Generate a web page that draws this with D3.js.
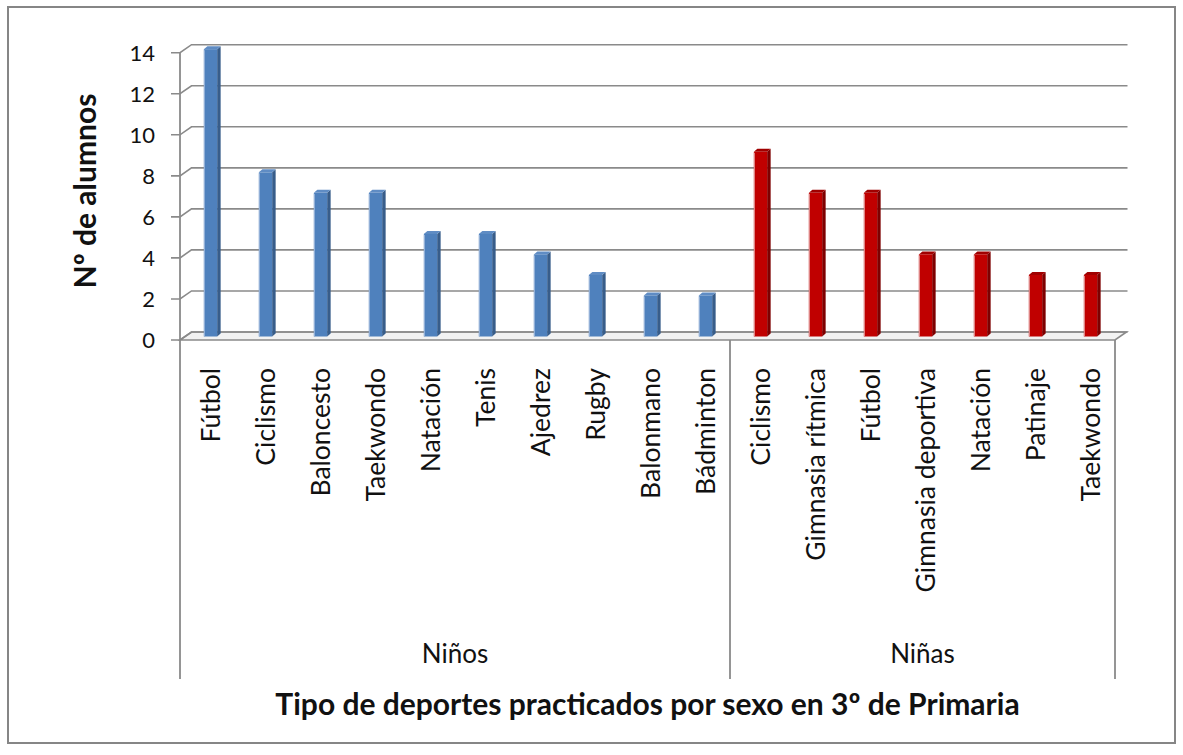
<!DOCTYPE html>
<html>
<head>
<meta charset="utf-8">
<script src="https://cdn.jsdelivr.net/npm/d3@7"></script>
<style>
  body { margin: 0; background: #fff; }
  svg { display: block; }
  text { font-family: Lato, "Open Sans", sans-serif; fill: #111; }
</style>
</head>
<body>
<svg id="chart" width="1183" height="755"></svg>
<script>
// Sports practised by boys and girls (3º de Primaria)
const ninosSports = ["Fútbol", "Ciclismo", "Baloncesto", "Taekwondo", "Natación", "Tenis", "Ajedrez", "Rugby", "Balonmano", "Bádminton"];
const ninosValues = [14, 8, 7, 7, 5, 5, 4, 3, 2, 2];
const ninasSports = ["Ciclismo", "Gimnasia rítmica", "Fútbol", "Gimnasia deportiva", "Natación", "Patinaje", "Taekwondo"];
const ninasValues = [9, 7, 7, 4, 4, 3, 3];
const groupLabels = ["Niños", "Niñas"];
const yTicks = [0, 2, 4, 6, 8, 10, 12, 14];
const yTitle = "Nº de alumnos";
const xTitle = "Tipo de deportes practicados por sexo en 3º de Primaria";

const groups = [
  { name: groupLabels[0], sports: ninosSports, values: ninosValues, colors: { front: "#4F81BD", side: "#385D8A", top: "#5F8CC4", edge: "#9DB8DC" } },
  { name: groupLabels[1], sports: ninasSports, values: ninasValues, colors: { front: "#C00000", side: "#7E0000", top: "#A00000", edge: "#E39A9A" } }
];

const rows = [];
groups.forEach((g, gi) => g.sports.forEach((s, i) => rows.push({ key: gi + "|" + s, sport: s, value: g.values[i], group: g })));

const svg = d3.select("#chart");

// Outer frame
svg.append("rect").attr("x", 8).attr("y", 7).attr("width", 1167).attr("height", 736)
  .attr("fill", "#fff").attr("stroke", "#868686").attr("stroke-width", 2);

// Scales (front plane of the 3-D box)
const x = d3.scaleBand().domain(rows.map(d => d.key)).range([180, 1115]);
const y = d3.scaleLinear().domain([0, 14]).range([340, 52.7]);
const DX = 11.5, DY = -8;          // depth of the box
const x0 = x.range()[0], x1 = x.range()[1];
const labelBottom = 679;

// Floor plate
svg.append("path")
  .attr("d", `M${x0},${y(0)} H${x1} L${x1 + DX},${y(0) + DY} H${x0 + DX} Z`)
  .attr("fill", "#f2f2f2").attr("stroke", "#8a8a8a").attr("stroke-width", 1.6);

// Gridlines: tick, side-wall diagonal, back wall line
svg.append("g").selectAll("path").data(yTicks).join("path")
  .attr("d", t => `M${x0 - 9},${y(t)} H${x0} L${x0 + DX},${y(t) + DY} H${x1 + DX + 1}`)
  .attr("fill", "none").attr("stroke", "#8a8a8a").attr("stroke-width", 1.6);

// Value axis line
svg.append("path").attr("d", `M${x0},${y(14)} V${labelBottom}`)
  .attr("stroke", "#8a8a8a").attr("stroke-width", 1.8);

// Category axis separators
const sepX = [x0, x(rows[ninosSports.length].key), x1];
svg.append("g").selectAll("line").data(sepX.slice(1)).join("line")
  .attr("x1", d => d).attr("x2", d => d).attr("y1", y(0)).attr("y2", labelBottom)
  .attr("stroke", "#8a8a8a").attr("stroke-width", 1.8);

// Y tick labels
svg.append("g").selectAll("text").data(yTicks).join("text")
  .attr("x", 155).attr("y", t => y(t)).attr("dy", "0.36em")
  .attr("text-anchor", "end").attr("font-size", 22).text(t => t);

// Bars (drawn as prisms)
const BW = 13.3, BD = 3.5, BH = 3;      // front width, depth shift x / y
const OFFX = 3, OFFY = -3.5;           // bars sit mid-depth
const bars = svg.append("g").selectAll("g").data(rows).join("g");
bars.each(function (d) {
  const g = d3.select(this);
  const c = d.group.colors;
  const fx = x(d.key) + x.bandwidth() / 2 + OFFX - BW / 2;
  const fx2 = fx + BW;
  const yt = y(d.value) + OFFY;
  const yb = y(0) + OFFY;
  g.append("path").attr("d", `M${fx2},${yt} L${fx2 + BD},${yt - BH} V${yb - BH} L${fx2},${yb} Z`).attr("fill", c.side);
  g.append("path").attr("d", `M${fx},${yt} L${fx + BD},${yt - BH} H${fx2 + BD} L${fx2},${yt} Z`).attr("fill", c.top);
  g.append("rect").attr("x", fx).attr("y", yt).attr("width", BW).attr("height", yb - yt).attr("fill", c.front);
  g.append("line").attr("x1", fx + 0.5).attr("x2", fx + 0.5).attr("y1", yt + 1).attr("y2", yb)
    .attr("stroke", c.edge).attr("stroke-width", 1);
});

// Category labels (rotated)
svg.append("g").selectAll("text").data(rows).join("text")
  .attr("transform", d => `translate(${x(d.key) + x.bandwidth() / 2 + 12},368) rotate(-90)`)
  .attr("text-anchor", "end").attr("font-size", 26.5).text(d => d.sport);

// Group labels
const groupSpans = [[sepX[0], sepX[1]], [sepX[1], sepX[2]]];
svg.append("g").selectAll("text").data(groups).join("text")
  .attr("x", (d, i) => (groupSpans[i][0] + groupSpans[i][1]) / 2).attr("y", 663)
  .attr("text-anchor", "middle").attr("font-size", 26).text(d => d.name);

// Axis titles
svg.append("text").attr("transform", "translate(96,191) rotate(-90)")
  .attr("text-anchor", "middle").attr("font-size", 30).attr("font-weight", "bold").text(yTitle);
svg.append("text").attr("x", (x0 + x1) / 2).attr("y", 715)
  .attr("text-anchor", "middle").attr("font-size", 30).attr("font-weight", "bold").text(xTitle);
</script>
</body>
</html>
